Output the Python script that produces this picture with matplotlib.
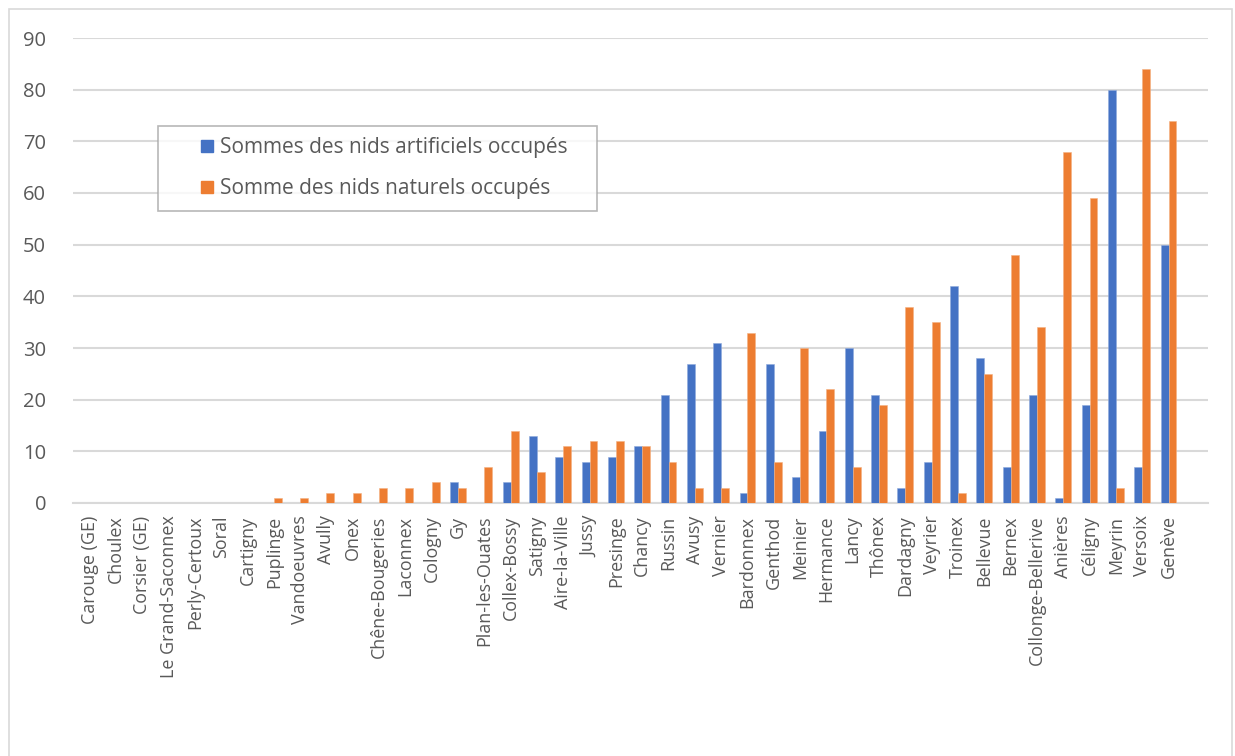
import numpy as np
import matplotlib
matplotlib.use("Agg")
import matplotlib.pyplot as plt
from matplotlib.lines import Line2D
from matplotlib.patches import Rectangle

communes = ["Carouge (GE)", "Choulex", "Corsier (GE)", "Le Grand-Saconnex", "Perly-Certoux",
            "Soral", "Cartigny", "Puplinge", "Vandoeuvres", "Avully", "Onex",
            "Chêne-Bougeries", "Laconnex", "Cologny", "Gy", "Plan-les-Ouates",
            "Collex-Bossy", "Satigny", "Aire-la-Ville", "Jussy", "Presinge", "Chancy",
            "Russin", "Avusy", "Vernier", "Bardonnex", "Genthod", "Meinier", "Hermance",
            "Lancy", "Thônex", "Dardagny", "Veyrier", "Troinex", "Bellevue", "Bernex",
            "Collonge-Bellerive", "Anières", "Céligny", "Meyrin", "Versoix", "Genève"]
artificiels = [0, 0, 0, 0, 0, 0, 0, 0, 0, 0, 0, 0, 0, 0, 4, 0, 4, 13, 9, 8, 9, 11,
               21, 27, 31, 2, 27, 5, 14, 30, 21, 3, 8, 42, 28, 7, 21, 1, 19, 80, 7, 50]
naturels = [0, 0, 0, 0, 0, 0, 0, 1, 1, 2, 2, 3, 3, 4, 3, 7, 14, 6, 11, 12, 12, 11,
            8, 3, 3, 33, 8, 30, 22, 7, 19, 38, 35, 2, 25, 48, 34, 68, 59, 3, 84, 74]

BLUE = "#4472C4"
ORANGE = "#ED7D31"
GREY_TXT = "#595959"
GRID = "#D9D9D9"

plt.rcParams['font.family'] = ['Open Sans', 'DejaVu Sans']

W, H = 1235, 756
fig = plt.figure(figsize=(W / 100, H / 100), dpi=100)
ax = fig.add_axes([72.5 / W, 1 - 503 / H, (1208 - 72.5) / W, (503 - 38) / H])

x = np.arange(len(communes))
bw = 0.3
ax.bar(x - bw / 2, artificiels, bw, color=BLUE, edgecolor="#8faadc", linewidth=0.4,
       label="Sommes des nids artificiels occupés", zorder=3)
ax.bar(x + bw / 2, naturels, bw, color=ORANGE, edgecolor="#f4b183", linewidth=0.4,
       label="Somme des nids naturels occupés", zorder=3)

ax.set_xlim(-0.65, len(communes) + 0.5)
ax.set_ylim(0, 90)
ax.set_yticks(range(0, 91, 10))
ax.yaxis.grid(True, color=GRID, linewidth=1.5, zorder=0)
ax.set_axisbelow(True)
for s in ["top", "right", "left"]:
    ax.spines[s].set_visible(False)
ax.spines["bottom"].set_color(GRID)
ax.spines["bottom"].set_linewidth(1.5)

ax.set_xticks(x)
ax.set_xticklabels(communes, rotation=90, fontsize=12.9, color=GREY_TXT)
ax.tick_params(axis="x", length=0, pad=9)
ax.tick_params(axis="y", length=0, pad=19, labelsize=14.5, labelcolor=GREY_TXT)

handles = [Line2D([], [], marker="s", linestyle="none", markersize=9, color=BLUE),
           Line2D([], [], marker="s", linestyle="none", markersize=9, color=ORANGE)]
leg = fig.legend(handles, ["Sommes des nids artificiels occupés", "Somme des nids naturels occupés"],
                 loc="upper left",
                 bbox_to_anchor=(158 / W, 1 - 126 / H - 0.01, (597 - 158) / W, 0.01),
                 mode="expand", fontsize=15, frameon=True, fancybox=False,
                 borderpad=0.55, labelspacing=0.95, handlelength=3.6, handletextpad=-1.15,
                 borderaxespad=0)
leg.get_frame().set_edgecolor("#A6A6A6")
leg.get_frame().set_linewidth(1.2)
for t in leg.get_texts():
    t.set_color(GREY_TXT)

# chart area border
fig.patches.append(Rectangle((8.5 / W, -0.01), (1232 - 8.5) / W, 1 - 8.5 / H + 0.01,
                             transform=fig.transFigure, fill=False,
                             edgecolor="#D9D9D9", linewidth=1.2))

fig.savefig("out.png", dpi=100)
